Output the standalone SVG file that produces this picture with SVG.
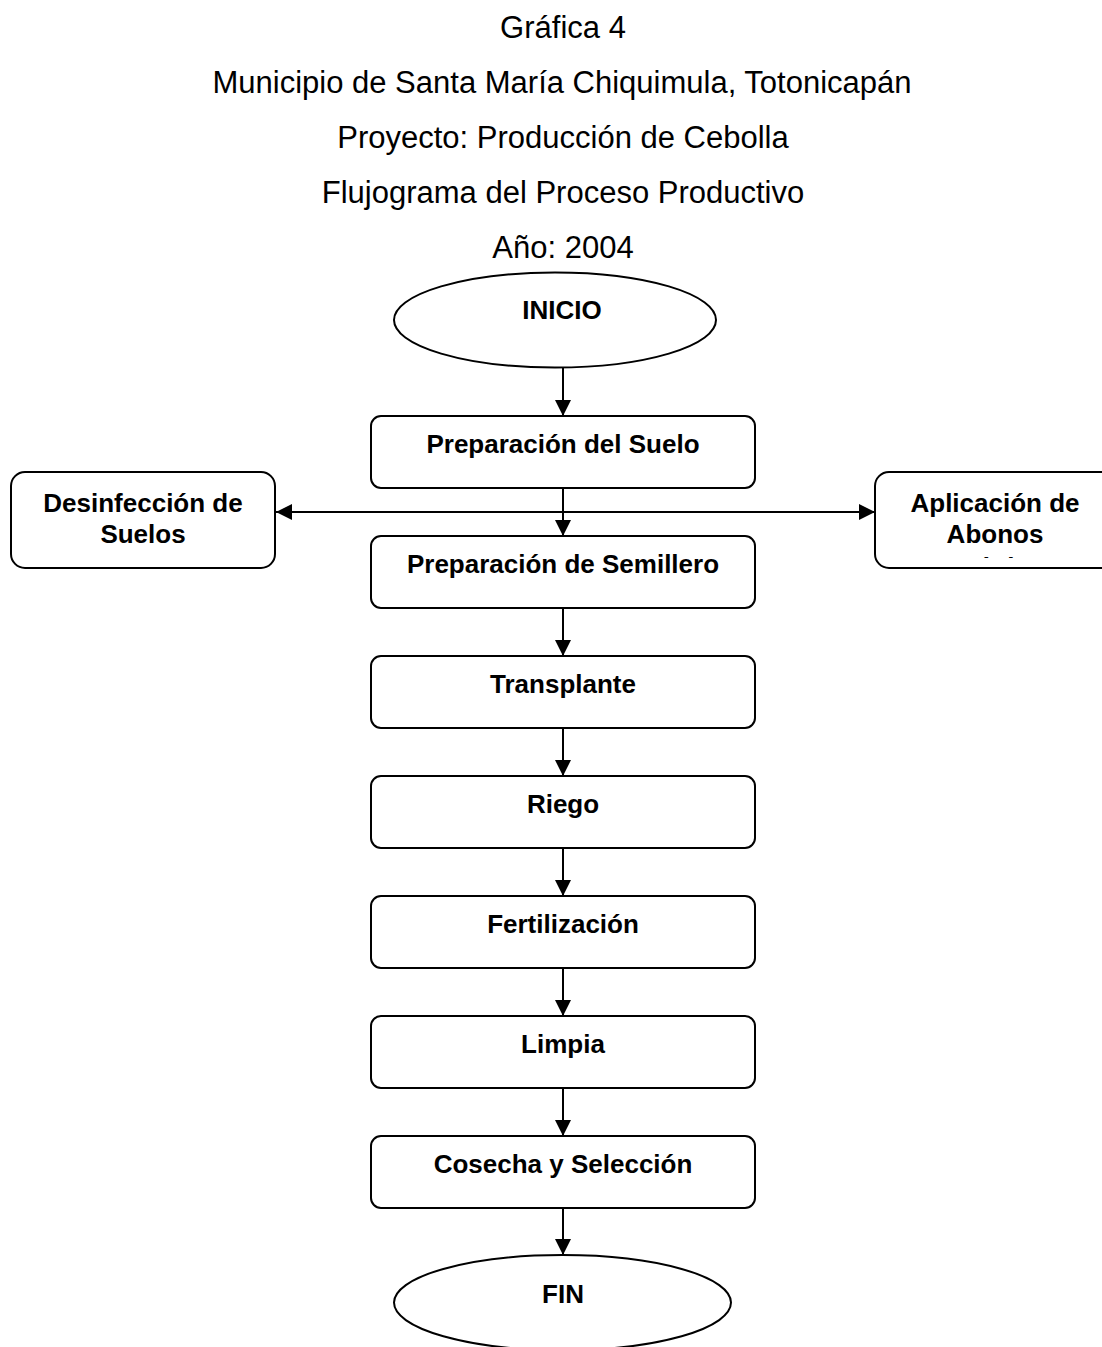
<svg xmlns="http://www.w3.org/2000/svg" width="1102" height="1347" viewBox="0 0 1102 1347">
<style>
.title{font-family:"Liberation Sans",Arial,sans-serif;font-size:31px;fill:#000;text-anchor:middle}
.lbl{font-family:"Liberation Sans",Arial,sans-serif;font-size:26px;font-weight:bold;fill:#000;text-anchor:middle}
.box{fill:#fff;stroke:#000;stroke-width:2}
.conn{stroke:#000;stroke-width:2;fill:none}
</style>
<defs>
<marker id="ah" markerUnits="userSpaceOnUse" markerWidth="16" markerHeight="16" refX="16" refY="8" orient="auto">
<path d="M0,0 L16,8 L0,16 z" fill="#000"/>
</marker>
<clipPath id="clipApl"><rect x="875" y="472" width="240" height="86"/></clipPath>
</defs>
<rect width="1102" height="1347" fill="#fff"/>
<g id="title">
<text class="title" x="563" y="38">Gráfica 4</text>
<text class="title" x="562" y="93">Municipio de Santa María Chiquimula, Totonicapán</text>
<text class="title" x="563" y="148">Proyecto: Producción de Cebolla</text>
<text class="title" x="563" y="203">Flujograma del Proceso Productivo</text>
<text class="title" x="563" y="258">Año: 2004</text>
</g>
<g id="connectors">
<line class="conn" x1="563" y1="367" x2="563" y2="416" marker-end="url(#ah)"/>
<line class="conn" x1="563" y1="488" x2="563" y2="536" marker-end="url(#ah)"/>
<line class="conn" x1="563" y1="512" x2="276" y2="512" marker-end="url(#ah)"/>
<line class="conn" x1="563" y1="512" x2="875" y2="512" marker-end="url(#ah)"/>
<line class="conn" x1="563" y1="608" x2="563" y2="656" marker-end="url(#ah)"/>
<line class="conn" x1="563" y1="728" x2="563" y2="776" marker-end="url(#ah)"/>
<line class="conn" x1="563" y1="848" x2="563" y2="896" marker-end="url(#ah)"/>
<line class="conn" x1="563" y1="968" x2="563" y2="1016" marker-end="url(#ah)"/>
<line class="conn" x1="563" y1="1088" x2="563" y2="1136" marker-end="url(#ah)"/>
<line class="conn" x1="563" y1="1208" x2="563" y2="1255" marker-end="url(#ah)"/>
</g>
<g id="inicio">
<ellipse class="box" cx="555" cy="320" rx="161" ry="47.5"/>
<text class="lbl" x="562" y="319">INICIO</text>
</g>
<g id="prep-suelo">
<rect class="box" x="371" y="416" width="384" height="72" rx="10"/>
<text class="lbl" x="563" y="453">Preparación del Suelo</text>
</g>
<g id="desinfeccion">
<rect class="box" x="11" y="472" width="264" height="96" rx="14"/>
<text class="lbl" x="143" y="512">Desinfección de</text>
<text class="lbl" x="143" y="543">Suelos</text>
</g>
<g id="aplicacion">
<rect class="box" x="875" y="472" width="240" height="96" rx="14"/>
<g clip-path="url(#clipApl)">
<text class="lbl" x="995" y="512">Aplicación de</text>
<text class="lbl" x="995" y="543">Abonos</text>
<text class="lbl" x="995" y="576">Orgánicos</text>
</g>
</g>
<g id="prep-semillero">
<rect class="box" x="371" y="536" width="384" height="72" rx="10"/>
<text class="lbl" x="563" y="573">Preparación de Semillero</text>
</g>
<g id="transplante">
<rect class="box" x="371" y="656" width="384" height="72" rx="10"/>
<text class="lbl" x="563" y="693">Transplante</text>
</g>
<g id="riego">
<rect class="box" x="371" y="776" width="384" height="72" rx="10"/>
<text class="lbl" x="563" y="813">Riego</text>
</g>
<g id="fertilizacion">
<rect class="box" x="371" y="896" width="384" height="72" rx="10"/>
<text class="lbl" x="563" y="933">Fertilización</text>
</g>
<g id="limpia">
<rect class="box" x="371" y="1016" width="384" height="72" rx="10"/>
<text class="lbl" x="563" y="1053">Limpia</text>
</g>
<g id="cosecha">
<rect class="box" x="371" y="1136" width="384" height="72" rx="10"/>
<text class="lbl" x="563" y="1173">Cosecha y Selección</text>
</g>
<g id="fin">
<ellipse class="box" cx="562.5" cy="1302.6" rx="168.5" ry="47.6"/>
<text class="lbl" x="563" y="1303">FIN</text>
</g>
</svg>
